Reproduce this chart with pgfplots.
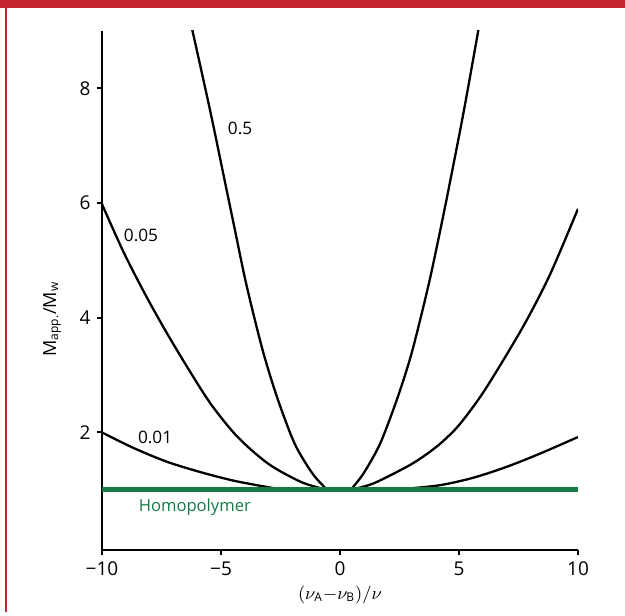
\documentclass[border=0pt]{standalone}
\usepackage{pgfplots}
\pgfplotsset{compat=1.18}
\usepackage{amsmath}
\usepackage{fontspec}
\setmainfont{Open Sans}
\definecolor{homgreen}{RGB}{22,122,70}
\definecolor{framered}{RGB}{196,38,46}
\begin{document}
\fontsize{9}{11}\selectfont
\begin{tikzpicture}
% frame decorations, 1 px of the reference = 0.5pt
\useasboundingbox (0pt,0pt) rectangle (312.5pt,307.5pt);
\fill[framered] (0pt,303.5pt) rectangle (312.5pt,307.5pt);
\fill[framered] (2.5pt,1.5pt) rectangle (3.5pt,303.5pt);
\begin{axis}[
    at={(51pt,32.5pt)}, anchor=south west,
    scale only axis,
    width=238pt, height=259.5pt,
    xmin=-10, xmax=10,
    ymin=-0.05, ymax=9,
    axis x line*=bottom,
    axis y line*=left,
    axis line style={line width=1.4pt},
    xtick={-10,-5,0,5,10},
    xticklabels={−10,−5,0,5,10},
    ytick={2,4,6,8},
    tick align=outside,
    major tick length=2.6pt,
    tick style={line width=1pt, black},
    /pgf/number format/assume math mode=true,
    ticklabel style={font=\fontsize{9.5}{11}\selectfont},
    xlabel={$(\nu_{\text{A}}{-}\nu_{\text{B}})/\nu$},
    xlabel style={yshift=1pt},
    ylabel={M\textsubscript{app.}/M\textsubscript{w}},
    ylabel style={at={(rel axis cs:-0.105,0.445)}, anchor=center},
    clip=true,
    every axis plot/.append style={smooth, tension=0.5},
]
% 0.5 left
\addplot[black, line width=1.15pt] coordinates {
    (-0.54,1.0) (-1.15,1.28) (-1.9,1.80) (-2.6,2.56) (-3.16,3.30)
    (-3.6,4.0) (-4.0,4.7) (-4.4,5.5) (-4.8,6.3) (-5.45,7.6) (-6.25,9.1)
};
% 0.5 right
\addplot[black, line width=1.15pt] coordinates {
    (0.45,1.0) (0.98,1.28) (1.68,1.80) (2.38,2.56) (2.94,3.28)
    (3.36,3.95) (3.78,4.68) (4.20,5.50) (4.6,6.32) (5.2,7.6) (5.85,9.1)
};
% 0.05 left
\addplot[black, line width=1.15pt] coordinates {
    (-0.54,1.0) (-1.6,1.13) (-3.0,1.45) (-4.3,1.92) (-5.4,2.48)
    (-6.3,3.06) (-7.3,3.75) (-8.2,4.42) (-9.1,5.15) (-10,5.98)
};
% 0.05 right
\addplot[black, line width=1.15pt] coordinates {
    (0.45,1.0) (1.4,1.11) (2.8,1.40) (3.5,1.58) (4.2,1.80) (4.9,2.08)
    (5.6,2.45) (6.3,2.88) (7.7,3.85) (8.82,4.75) (10,5.9)
};
% 0.01 left
\addplot[black, line width=1.15pt] coordinates {
    (-0.54,1.0) (-2.24,1.0) (-3.08,1.05) (-4.48,1.16) (-5.88,1.31)
    (-7.28,1.49) (-8.68,1.73) (-10,2.0)
};
% 0.01 right
\addplot[black, line width=1.15pt] coordinates {
    (0.45,1.0) (2.0,1.0) (2.8,1.02) (4.2,1.08) (5.6,1.21) (7.0,1.40)
    (8.4,1.63) (10,1.92)
};
% homopolymer
\addplot[homgreen, line width=2.4pt, sharp plot] coordinates {(-10,1) (10,1)};
\node[font=\fontsize{8.6}{10}\selectfont] at (axis cs:-4.2,7.3) {0.5};
\node[font=\fontsize{8.6}{10}\selectfont] at (axis cs:-8.36,5.43) {0.05};
\node[font=\fontsize{8.6}{10}\selectfont] at (axis cs:-7.77,1.91) {0.01};
\node[text=homgreen, font=\fontsize{8.3}{10}\selectfont] at (axis cs:-6.1,0.7) {Homopolymer};
\end{axis}
\end{tikzpicture}
\end{document}
